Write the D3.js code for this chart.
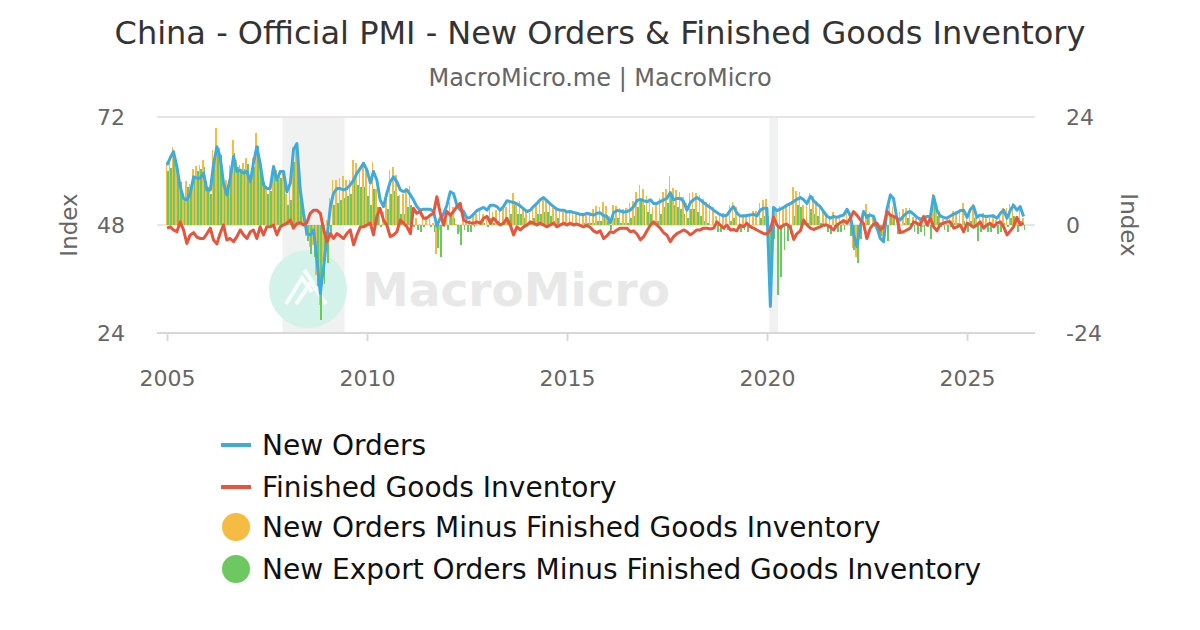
<!DOCTYPE html>
<html>
<head>
<meta charset="utf-8">
<script src="https://cdn.jsdelivr.net/npm/d3@7/dist/d3.min.js"></script>
<style>
  html, body { margin: 0; padding: 0; background: #fff; }
  svg { display: block; font-family: "DejaVu Sans", sans-serif; }
</style>
</head>
<body>
<svg id="chart" width="1200" height="630"></svg>
<script>
// ---------------- DATA ----------------
const startMonth = "2005-01";
const newOrders = [
  61.3, 63.0, 64.3, 61.0, 56.5, 53.9, 53.6, 55.0, 58.7, 58.4, 58.4, 59.5,
  55.8, 55.8, 61.3, 65.4, 63.2, 57.3, 54.7, 58.4, 63.2, 59.9, 60.2, 59.5,
  59.9, 57.6, 61.7, 65.4, 61.7, 56.9, 56.1, 56.1, 61.0, 58.0, 59.9, 59.9,
  55.4, 57.3, 64.7, 66.1, 56.0, 50.5, 46.1, 45.8, 46.9, 40.2, 32.8, 38.7,
  45.4, 52.1, 55.0, 56.1, 56.1, 55.8, 56.1, 56.9, 58.0, 59.5, 60.6, 61.7,
  60.2, 57.3, 59.9, 58.0, 53.6, 52.1, 55.0, 57.6, 58.7, 57.6, 55.8, 55.4,
  55.8, 54.7, 53.6, 52.1, 51.3, 51.5, 51.5, 51.5, 51.0, 47.8, 49.5, 50.5,
  52.4, 55.4, 55.0, 52.4, 51.3, 51.0, 49.5, 49.7, 50.4, 51.2, 51.6, 51.9,
  51.3, 52.4, 52.4, 52.1, 51.3, 52.1, 53.4, 53.2, 53.0, 52.7, 52.2, 51.6,
  51.0, 51.3, 52.1, 52.8, 53.6, 54.1, 53.4, 52.7, 52.1, 51.5, 51.3, 51.3,
  50.9, 51.0, 50.8, 50.6, 50.4, 50.3, 50.6, 50.4, 50.2, 50.6, 50.7, 50.1,
  49.9, 48.5, 50.7, 51.2, 51.1, 50.9, 51.0, 51.3, 52.1, 53.4, 53.7, 53.4,
  53.2, 53.6, 52.8, 52.8, 53.2, 53.6, 53.9, 55.2, 53.6, 53.9, 53.9, 53.2,
  51.3, 53.0, 53.6, 54.1, 53.6, 53.0, 52.4, 51.9, 51.3, 50.8, 50.3, 50.0,
  50.2, 51.3, 52.1, 50.7, 50.0, 50.0, 50.1, 50.2, 50.4, 50.0, 51.3, 51.7,
  51.7, 29.9, 51.9, 51.2, 51.5, 51.9, 52.4, 52.7, 53.2, 53.7, 54.1, 53.6,
  52.8, 54.4, 53.4, 52.7, 52.1, 51.0, 50.0, 49.5, 49.9, 49.7, 50.0, 50.2,
  51.5, 50.0, 46.0, 43.2, 47.5, 51.0, 49.7, 50.2, 49.9, 47.5, 45.0, 44.3,
  51.5, 54.7, 53.9, 49.5, 49.1, 50.0, 50.7, 51.0, 50.4, 49.7, 49.3, 49.5,
  49.9, 49.9, 54.4, 51.3, 50.0, 49.7, 49.5, 50.0, 50.4, 50.7, 51.2, 51.3,
  49.7, 51.5, 52.2, 49.7, 50.2, 50.0, 49.9, 50.0, 50.0, 49.5, 50.6, 51.3,
  49.5, 51.3, 52.4, 51.3, 52.1, 49.9
];
const inventory = [
  47.3, 47.6, 46.9, 46.5, 48.7, 46.9, 43.9, 45.8, 46.3, 45.3, 45.0, 45.0,
  46.1, 47.3, 44.7, 43.8, 46.1, 48.0, 44.7, 45.0, 44.3, 45.4, 46.9, 45.8,
  45.0, 46.5, 46.9, 45.0, 47.6, 45.8, 47.6, 47.6, 48.0, 45.8, 47.6, 48.0,
  48.4, 49.1, 47.3, 48.3, 48.5, 48.0, 48.5, 50.6, 51.3, 51.3, 50.6, 47.0,
  44.3, 46.1, 45.0, 46.1, 45.6, 45.0, 46.1, 46.9, 43.6, 45.8, 47.6, 47.6,
  48.0, 48.4, 45.8, 49.9, 51.7, 49.1, 48.0, 45.4, 45.8, 46.5, 49.1, 48.4,
  47.6, 46.1, 51.7, 50.6, 51.0, 49.5, 49.5, 50.2, 50.6, 54.3, 50.6, 48.0,
  51.0, 50.2, 51.0, 52.1, 52.8, 49.1, 48.7, 48.5, 48.4, 48.7, 48.4, 49.5,
  49.9, 48.4, 49.5, 48.7, 48.0, 48.4, 49.5, 48.0, 45.8, 47.6, 46.9, 47.6,
  48.0, 48.7, 48.4, 48.0, 48.4, 48.0, 47.6, 48.0, 48.4, 47.6, 48.0, 48.4,
  48.0, 48.4, 48.0, 48.2, 47.9, 47.6, 47.9, 47.5, 46.7, 46.3, 46.7, 45.0,
  45.6, 46.5, 46.3, 46.9, 47.3, 47.3, 47.3, 46.5, 46.7, 46.0, 44.7, 45.4,
  46.7, 48.0, 48.7, 48.0, 47.3, 46.3, 45.8, 44.3, 45.4, 46.1, 46.5, 46.9,
  46.5, 45.8, 46.3, 46.9, 46.9, 47.3, 47.3, 47.1, 47.3, 48.7, 48.0, 47.3,
  48.0, 46.9, 47.0, 46.7, 48.0, 47.6, 48.4, 47.6, 47.3, 46.9, 46.5, 46.1,
  46.0, 46.9, 49.7, 48.0, 47.3, 48.0, 48.2, 47.5, 44.8, 46.1, 46.7, 49.1,
  48.0, 47.3, 47.0, 47.3, 47.6, 48.0, 48.0, 47.5, 46.9, 48.0, 48.5, 49.0,
  48.4, 49.5, 51.0, 50.2, 49.2, 48.3, 45.0, 47.3, 48.2, 48.4, 46.9, 47.6,
  51.0, 50.2, 49.9, 49.5, 46.3, 46.5, 46.9, 47.3, 48.7, 48.4, 48.0, 49.9,
  48.0, 49.5, 47.6, 46.7, 48.2, 48.4, 48.7, 48.7, 47.3, 47.6, 48.0, 46.5,
  48.4, 48.0, 47.5, 48.0, 48.7, 47.3, 48.0, 48.4, 47.6, 48.4, 48.7, 47.6,
  45.8, 46.7, 47.6, 49.7, 48.0, 48.4
];
const ordersMinusInventory = [
  14.0, 15.4, 17.4, 14.5, 7.8, 7.0, 9.7, 9.2, 12.4, 13.1, 13.4, 14.5,
  9.7, 8.5, 16.6, 21.6, 17.1, 9.3, 10.0, 13.4, 18.9, 14.5, 13.3, 13.7,
  14.9, 11.1, 14.8, 20.4, 14.1, 11.1, 8.5, 8.5, 13.0, 12.2, 12.3, 11.9,
  7.0, 8.2, 17.4, 17.8, 7.5, 2.5, -2.4, -4.8, -4.4, -11.1, -17.8, -8.3,
  1.1, 6.0, 10.0, 10.0, 10.5, 10.8, 10.0, 10.0, 14.4, 13.7, 13.0, 14.1,
  12.2, 8.9, 14.1, 8.1, 1.9, 3.0, 7.0, 12.2, 12.9, 11.1, 6.7, 7.0,
  8.2, 8.6, 1.9, 1.5, 0.3, 2.0, 2.0, 1.3, 0.4, -6.5, -1.1, 2.5,
  1.4, 5.2, 4.0, 0.3, -1.5, 1.9, 0.8, 1.2, 2.0, 2.5, 3.2, 2.4,
  1.4, 4.0, 2.9, 3.4, 3.3, 3.7, 3.9, 5.2, 7.2, 5.1, 5.3, 4.0,
  3.0, 2.6, 3.7, 4.8, 5.2, 6.1, 5.8, 4.7, 3.7, 3.9, 3.3, 2.9,
  2.9, 2.6, 2.8, 2.4, 2.5, 2.7, 2.7, 2.9, 3.5, 4.3, 4.0, 5.1,
  4.3, 2.0, 4.4, 4.3, 3.8, 3.6, 3.7, 4.8, 5.4, 7.4, 9.0, 8.0,
  6.5, 5.6, 4.1, 4.8, 5.9, 7.3, 8.1, 10.9, 8.2, 7.8, 7.4, 6.3,
  4.8, 7.2, 7.3, 7.2, 6.7, 5.7, 5.1, 4.8, 4.0, 2.1, 2.3, 2.7,
  2.2, 4.4, 5.1, 4.0, 2.0, 2.4, 1.7, 2.6, 3.1, 3.1, 4.8, 5.6,
  5.7, -17.0, 2.2, 3.2, 4.2, 3.9, 4.2, 5.2, 8.4, 7.6, 7.4, 4.5,
  4.8, 7.1, 6.4, 5.4, 4.5, 3.0, 2.0, 2.0, 3.0, 1.7, 1.5, 1.2,
  3.1, 0.5, -5.0, -7.0, -1.7, 2.7, 4.7, 2.9, 1.7, -0.9, -1.9, -3.3,
  0.5, 4.5, 4.0, 0.0, 2.8, 3.5, 3.8, 3.7, 1.7, 1.3, 1.3, -0.4,
  1.9, 0.4, 6.8, 4.6, 1.8, 1.3, 0.8, 1.3, 3.1, 3.1, 3.2, 4.8,
  1.3, 3.5, 4.7, 1.7, 1.5, 2.7, 1.9, 1.6, 2.4, 1.1, 1.9, 3.7,
  3.7, 4.6, 4.8, 1.6, 4.1, 1.5
];
const exportMinusInventory = [
  12.0, 12.6, 16.5, 12.0, 9.5, 6.0, 8.5, 8.0, 11.0, 12.0, 12.5, 13.0,
  8.5, 7.0, 14.0, 17.0, 15.5, 8.0, 9.0, 12.0, 16.0, 13.0, 12.0, 12.5,
  13.5, 9.5, 13.0, 17.5, 13.0, 9.5, 7.0, 7.5, 11.5, 10.0, 10.5, 9.5,
  4.5, 5.5, 14.0, 13.0, 5.5, 2.0, -3.5, -6.5, -7.0, -13.5, -21.0, -13.0,
  -8.5, -2.0, 4.5, 5.0, 5.5, 6.0, 6.5, 7.0, 10.5, 9.0, 8.5, 8.5,
  6.5, 4.5, 8.0, 4.0, -0.5, 0.5, 3.5, 7.0, 7.5, 6.5, 2.5, 2.5,
  4.0, 4.5, -0.5, -1.0, -1.5, -0.5, 0.0, -0.5, -1.5, -5.0, -7.0, -0.5,
  -1.0, 2.5, 1.5, -2.0, -4.4, -1.0, -1.5, -1.5, -0.5, 0.0, 1.0, 0.5,
  -0.5, 1.5, 0.5, 1.0, 0.5, 1.0, 1.0, 2.5, 4.5, 2.5, 2.5, 1.5,
  0.5, 0.5, 1.5, 2.5, 2.5, 3.0, 3.0, 2.0, 1.0, 1.5, 0.5, 0.5,
  0.0, 0.0, 0.5, 0.0, 0.0, 0.5, 0.5, 0.5, 0.5, 1.0, 1.0, 2.0,
  1.0, -1.0, 1.5, 1.5, 0.5, 0.5, 0.5, 1.5, 2.0, 4.0, 5.5, 4.5,
  3.0, 2.5, 0.5, 1.0, 2.5, 4.0, 5.0, 7.0, 4.5, 4.0, 3.5, 2.5,
  1.5, 3.5, 3.5, 3.0, 2.0, 1.0, 0.5, 0.0, -0.5, -1.5, -1.5, -1.0,
  -1.0, 1.0, 1.5, 0.0, -1.5, -1.0, -1.5, -0.5, 0.0, 0.0, 1.5, 2.0,
  2.0, -17.0, -3.0, -15.6, -11.5, -5.5, -3.5, -2.0, 2.0, 4.5, 4.0, 1.0,
  0.5, 3.5, 2.5, 2.0, 0.5, -0.5, -1.5, -2.0, -0.5, -1.5, -1.5, -1.0,
  0.0, -2.5, -5.5, -8.5, -3.0, -0.5, 2.5, 0.0, -0.5, -1.0, -2.5, -3.5,
  -3.5, 2.5, 1.5, -2.0, 0.0, 0.5, 1.5, 0.5, -1.5, -2.0, -1.5, -2.5,
  -0.5, -3.0, 4.5, 2.0, -0.5, -1.0, -1.5, -0.5, 0.5, 0.5, 0.0, 1.0,
  -1.5, 1.0, 1.5, -3.5, -1.5, -0.5, -1.5, -1.5, -0.5, -2.0, -1.5, 0.5,
  -0.5, 1.5, 2.0, -1.5, 1.0, -1.0
];
const recessions = [["2007-12-01", "2009-06-01"], ["2020-02-01", "2020-04-01"]];
const leftTicks = [24, 48, 72];
const rightTicks = [-24, 0, 24];
const yearTicks = [2005, 2010, 2015, 2020, 2025];
const seriesNames = ["New Orders", "Finished Goods Inventory",
  "New Orders Minus Finished Goods Inventory", "New Export Orders Minus Finished Goods Inventory"];
const titleText = "China - Official PMI - New Orders & Finished Goods Inventory";
const subtitleText = "MacroMicro.me | MacroMicro";

// ---------------- SETUP ----------------
const colors = { blue: "#3fabdc", red: "#e9553c", orange: "#f6bb43", green: "#6dc862" };
const svg = d3.select("#chart");
const parse = d3.timeParse("%Y-%m-%d");
const t0 = d3.timeParse("%Y-%m")(startMonth);
const months = d3.range(newOrders.length).map(i => d3.timeMonth.offset(t0, i));

const plotLeft = 157, plotRight = 1035, plotTop = 117, plotBottom = 333;
const x = d3.scaleTime()
  .domain([new Date(2005, 0, 1), new Date(2027, 0, 1)])
  .range([167, 167 + 22 * 40]);
const yL = d3.scaleLinear().domain([24, 72]).range([plotBottom, plotTop]);
const yR = d3.scaleLinear().domain([-24, 24]).range([plotBottom, plotTop]);

// title
svg.append("text").attr("x", 600).attr("y", 44).attr("text-anchor", "middle")
  .attr("font-size", 32).attr("fill", "#333").text(titleText);
svg.append("text").attr("x", 600).attr("y", 86).attr("text-anchor", "middle")
  .attr("font-size", 24).attr("fill", "#666").text(subtitleText);

// recession shading
const shade = svg.append("g");
shade.selectAll("rect").data(recessions).join("rect")
  .attr("x", d => x(parse(d[0])) - 1)
  .attr("width", d => x(parse(d[1])) - x(parse(d[0])) + 2)
  .attr("y", plotTop).attr("height", plotBottom - plotTop)
  .attr("fill", "#f0f1f1");

// watermark
const wm = svg.append("g");
wm.append("circle").attr("cx", 308).attr("cy", 289).attr("r", 39)
  .attr("fill", "#d2f2ea");
wm.append("path")
  .attr("d", "M286,304 L302,278 L312,292 M296,304 L311,282 L326,304 M304,270 L314,284")
  .attr("fill", "none").attr("stroke", "#fff").attr("stroke-width", 4).attr("opacity", 0.85);
wm.append("text").attr("x", 362).attr("y", 306).attr("font-size", 47)
  .attr("font-weight", "bold").attr("fill", "#e8e8e8").text("MacroMicro");

// grid lines
const grid = svg.append("g");
grid.selectAll("line").data(leftTicks).join("line")
  .attr("x1", plotLeft).attr("x2", plotRight)
  .attr("y1", d => yL(d)).attr("y2", d => yL(d))
  .attr("stroke", d => d === 24 ? "#d8d8d8" : "#e6e6e6").attr("stroke-width", 2);

// bars
const bars = svg.append("g").attr("shape-rendering", "crispEdges");
bars.selectAll("rect.o").data(ordersMinusInventory).join("rect").attr("class", "o")
  .attr("x", (d, i) => x(months[i]) - 1.5)
  .attr("width", 1.5)
  .attr("y", d => Math.min(yR(d), yR(0)))
  .attr("height", d => Math.abs(yR(d) - yR(0)))
  .attr("fill", colors.orange);
bars.selectAll("rect.g").data(exportMinusInventory).join("rect").attr("class", "g")
  .attr("x", (d, i) => x(months[i]))
  .attr("width", 1.8)
  .attr("y", d => Math.min(yR(d), yR(0)))
  .attr("height", d => Math.abs(yR(d) - yR(0)))
  .attr("fill", colors.green);

// lines
const line = d3.line().x((d, i) => x(months[i])).y(d => yL(d));
svg.append("path").datum(newOrders).attr("d", line)
  .attr("fill", "none").attr("stroke", colors.blue).attr("stroke-width", 3)
  .attr("stroke-linejoin", "round");
svg.append("path").datum(inventory).attr("d", line)
  .attr("fill", "none").attr("stroke", colors.red).attr("stroke-width", 3)
  .attr("stroke-linejoin", "round");

// axes
const xAxis = d3.axisBottom(x)
  .tickValues(yearTicks.map(y => new Date(y, 0, 1)))
  .tickFormat(d3.timeFormat("%Y")).tickSize(8).tickPadding(29);
const gx = svg.append("g").attr("transform", `translate(0,${plotBottom})`).call(xAxis);
gx.select(".domain").remove();
gx.selectAll(".tick line").attr("stroke", "#d8d8d8").attr("stroke-width", 2);
gx.selectAll(".tick text").attr("font-size", 22).attr("fill", "#666")
  .attr("font-family", "DejaVu Sans");
svg.append("line").attr("x1", plotLeft).attr("x2", plotRight)
  .attr("y1", plotBottom).attr("y2", plotBottom).attr("stroke", "#d8d8d8").attr("stroke-width", 2);

const gl = svg.append("g").attr("transform", `translate(${plotLeft},0)`)
  .call(d3.axisLeft(yL).tickValues(leftTicks).tickSize(0).tickPadding(32).tickFormat(d => String(d)));
gl.select(".domain").remove();
gl.selectAll(".tick text").attr("font-size", 22).attr("fill", "#666").attr("font-family", "DejaVu Sans");

const gr = svg.append("g").attr("transform", `translate(${plotRight},0)`)
  .call(d3.axisRight(yR).tickValues(rightTicks).tickSize(0).tickPadding(31).tickFormat(d => String(d)));
gr.select(".domain").remove();
gr.selectAll(".tick text").attr("font-size", 22).attr("fill", "#666").attr("font-family", "DejaVu Sans");

svg.append("text").attr("transform", "translate(77,225) rotate(-90)")
  .attr("text-anchor", "middle").attr("font-size", 23).attr("fill", "#666").text("Index");
svg.append("text").attr("transform", "translate(1121,225) rotate(90)")
  .attr("text-anchor", "middle").attr("font-size", 23).attr("fill", "#666").text("Index");

// legend
const legendY = [445, 487, 527, 569];
const lg = svg.append("g");
seriesNames.forEach((name, i) => {
  const cy = legendY[i];
  if (i < 2) {
    lg.append("line").attr("x1", 221).attr("x2", 251).attr("y1", cy).attr("y2", cy)
      .attr("stroke", i === 0 ? colors.blue : colors.red).attr("stroke-width", 4);
  } else {
    lg.append("circle").attr("cx", 236).attr("cy", cy).attr("r", 14)
      .attr("fill", i === 2 ? colors.orange : colors.green);
  }
  lg.append("text").attr("x", 262).attr("y", cy).attr("dy", "0.35em")
    .attr("font-size", 28).attr("fill", "#111").text(name);
});
</script>
</body>
</html>
